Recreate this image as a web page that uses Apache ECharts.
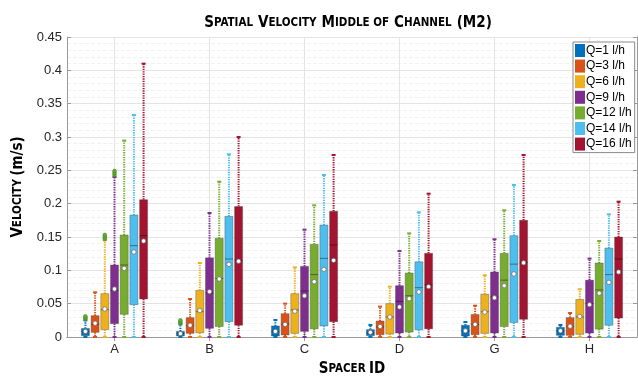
<!DOCTYPE html>
<html><head><meta charset="utf-8">
<script src="https://cdn.jsdelivr.net/npm/echarts@6/dist/echarts.min.js"></script>
<style>html,body{margin:0;padding:0;background:#fff}#c{width:638px;height:382px}</style>
</head><body><div id="c"></div>
<script>
const categories = ['A', 'B', 'C', 'D', 'G', 'H'];
const seriesNames = ['Q=1 l/h', 'Q=3 l/h', 'Q=6 l/h', 'Q=9 l/h', 'Q=12 l/h', 'Q=14 l/h', 'Q=16 l/h'];
const yTicks = [0, 0.05, 0.1, 0.15, 0.2, 0.25, 0.3, 0.35, 0.4, 0.45];

// [low whisker, Q1, median, Q3, high whisker] for spacers A, B, C, D, G, H
const boxQ1 = [[0, 0.002, 0.008, 0.0128, 0.025], [0, 0.0015, 0.005, 0.0084, 0.019], [0, 0.0015, 0.008, 0.0166, 0.0255], [0, 0.002, 0.006, 0.011, 0.018], [0, 0.0015, 0.009, 0.0176, 0.0225], [0, 0.0025, 0.009, 0.0145, 0.018]];
const boxQ3 = [[0, 0.007, 0.019, 0.032, 0.067], [0, 0.0055, 0.017, 0.029, 0.057], [0, 0.003, 0.019, 0.035, 0.050], [0, 0.0034, 0.015, 0.024, 0.0456], [0, 0.0034, 0.019, 0.0338, 0.047], [0, 0.0025, 0.016, 0.029, 0.036]];
const boxQ6 = [[0, 0.011, 0.041, 0.065, 0.145], [0, 0.0063, 0.038, 0.070, 0.111], [0, 0.0054, 0.0407, 0.065, 0.1044], [0, 0.0044, 0.030, 0.050, 0.0755], [0, 0.0054, 0.0378, 0.0643, 0.0926], [0, 0.004, 0.030, 0.0563, 0.0716]];
const boxQ9 = [[0, 0.020, 0.070, 0.108, 0.240], [0, 0.013, 0.066, 0.1187, 0.186], [0, 0.0084, 0.069, 0.106, 0.161], [0, 0.006, 0.0534, 0.077, 0.129], [0, 0.006, 0.060, 0.0975, 0.1466], [0, 0.006, 0.050, 0.0853, 0.1176]];
const boxQ12 = [[0, 0.034, 0.108, 0.153, 0.2946], [0, 0.0157, 0.0878, 0.148, 0.233], [0, 0.0122, 0.0936, 0.139, 0.1975], [0, 0.0074, 0.0618, 0.096, 0.1554], [0, 0.0157, 0.0853, 0.1255, 0.190], [0, 0.0118, 0.0706, 0.111, 0.144]];
const boxQ14 = [[0, 0.0485, 0.137, 0.183, 0.333], [0, 0.023, 0.117, 0.181, 0.274], [0, 0.0166, 0.118, 0.168, 0.243], [0, 0.0107, 0.074, 0.1128, 0.187], [0, 0.0216, 0.1093, 0.152, 0.228], [0, 0.0176, 0.0936, 0.1334, 0.184]];
const boxQ16 = [[0, 0.057, 0.152, 0.206, 0.410], [0, 0.0176, 0.115, 0.1956, 0.300], [0, 0.023, 0.138, 0.1887, 0.273], [0, 0.0122, 0.078, 0.1255, 0.215], [0, 0.0265, 0.112, 0.175, 0.273], [0, 0.0284, 0.117, 0.150, 0.203]];

// mean values for spacers A, B, C, D, G, H
const meanQ1 = [0.0084, 0.005, 0.0084, 0.007, 0.0093, 0.0093];
const meanQ3 = [0.0206, 0.0176, 0.019, 0.0157, 0.019, 0.0162];
const meanQ6 = [0.042, 0.0397, 0.0387, 0.030, 0.0373, 0.0309];
const meanQ9 = [0.072, 0.068, 0.0618, 0.045, 0.0588, 0.0485];
const meanQ12 = [0.103, 0.087, 0.083, 0.0574, 0.077, 0.0657];
const meanQ14 = [0.1275, 0.109, 0.1015, 0.0676, 0.0946, 0.082];
const meanQ16 = [0.144, 0.1137, 0.115, 0.0755, 0.1113, 0.0975];

// outliers: [spacer index, value]
const outliersQ1 = [[0, 0.027], [0, 0.029], [0, 0.031], [1, 0.021], [1, 0.023], [1, 0.025]];
const outliersQ6 = [[0, 0.147], [0, 0.150], [0, 0.153]];
const outliersQ9 = [[0, 0.243], [0, 0.246], [0, 0.249]];

const boxes = [boxQ1, boxQ3, boxQ6, boxQ9, boxQ12, boxQ14, boxQ16];
const means = [meanQ1, meanQ3, meanQ6, meanQ9, meanQ12, meanQ14, meanQ16];
const outliers = [[0, outliersQ1], [2, outliersQ6], [3, outliersQ9]];
const colors = ['#0072BD', '#D95319', '#EDB120', '#7E2F8E', '#77AC30', '#4DBEEE', '#A2142F'];

const BOX_STEP = 9.7, BOX_W = 8, CAP_W = 4;
const FONT = "'Liberation Sans', Arial, sans-serif";
const NARROW = "'Liberation Sans Narrow', 'DejaVu Sans Condensed', 'Liberation Sans', sans-serif";

function boxRender(si) {
  return function (params, api) {
    const ci = api.value(0);
    const cx = api.coord([ci, 0])[0] + (si - 3) * BOX_STEP;
    const y = k => api.coord([ci, api.value(k)])[1];
    const yLo = y(1), yQ1 = y(2), yMed = y(3), yQ3 = y(4), yHi = y(5), yMean = y(6);
    const col = api.visual('color');
    const dash = { stroke: col, lineWidth: 2, lineDash: [1.3, 1.1] };
    return {
      type: 'group', children: [
        { type: 'line', shape: { x1: cx, y1: yQ3, x2: cx, y2: yHi }, style: dash },
        { type: 'line', shape: { x1: cx, y1: yQ1, x2: cx, y2: yLo }, style: dash },
        { type: 'line', shape: { x1: cx - CAP_W / 2, y1: yHi, x2: cx + CAP_W / 2, y2: yHi }, style: { stroke: col, lineWidth: 2 } },
        { type: 'line', shape: { x1: cx - CAP_W / 2, y1: yLo, x2: cx + CAP_W / 2, y2: yLo }, style: { stroke: col, lineWidth: 2 } },
        { type: 'rect', shape: { x: cx - BOX_W / 2, y: yQ3, width: BOX_W, height: Math.max(1, yQ1 - yQ3) }, style: { fill: col, stroke: 'rgba(70,70,70,0.55)', lineWidth: 0.7 } },
        { type: 'line', shape: { x1: cx - BOX_W / 2, y1: yMed, x2: cx + BOX_W / 2, y2: yMed }, style: { stroke: 'rgba(0,0,0,0.4)', lineWidth: 1 } },
        { type: 'circle', shape: { cx: cx, cy: yMean, r: 2.2 }, style: { fill: '#fff', stroke: '#666', lineWidth: 0.7 } }
      ]
    };
  };
}
function outlierRender(si) {
  return function (params, api) {
    const p = api.coord([api.value(0), api.value(1)]);
    return { type: 'circle', shape: { cx: p[0] + (si - 3) * BOX_STEP, cy: p[1], r: 1.9 }, style: { fill: '#5FAE32', stroke: '#3d7a1e', lineWidth: 0.5 } };
  };
}

const series = seriesNames.map((name, si) => ({
  name: name,
  type: 'custom',
  renderItem: boxRender(si),
  itemStyle: { color: colors[si] },
  encode: { x: 0, y: [1, 2, 3, 4, 5, 6] },
  data: boxes[si].map((b, i) => [i].concat(b, [means[si][i]])),
  z: 3
}));
outliers.forEach(([si, pts]) => series.push({
  name: 'out' + si, type: 'custom', renderItem: outlierRender(si),
  encode: { x: 0, y: 1 }, data: pts, z: 4, itemStyle: { color: '#5FAE32' }
}));

const sc = (big, small) => `{a|${big}}{b|${small}}`;
const chart = echarts.init(document.getElementById('c'), null, { renderer: 'canvas' });
chart.setOption({
  animation: false,
  backgroundColor: '#fff',
  title: {
    text: sc('S', 'PATIAL') + ' ' + sc('V', 'ELOCITY') + ' ' + sc('M', 'IDDLE OF') + ' ' + sc('C', 'HANNEL') + ' {a|(M2)}',
    left: 343, top: 9, textAlign: 'center',
    textStyle: {
      rich: {
        a: { fontFamily: NARROW, fontWeight: 'bold', fontSize: 15, color: '#000' },
        b: { fontFamily: NARROW, fontWeight: 'bold', fontSize: 11.5, color: '#000' }
      }
    }
  },
  legend: {
    data: seriesNames, orient: 'vertical', left: 573, top: 42,
    icon: 'rect', itemWidth: 10, itemHeight: 13, itemGap: 2.6,
    padding: [2, 3, 2, 2], backgroundColor: '#fff', borderColor: '#8a8a8a', borderWidth: 1,
    textStyle: { fontFamily: FONT, fontSize: 12, color: '#000', padding: [0, 0, 0, -4] }
  },
  grid: { left: 67, right: 1, top: 37, bottom: 39 },
  xAxis: [{
    type: 'category', data: categories, position: 'bottom',
    name: sc('S', 'PACER') + ' {a|ID}', nameLocation: 'middle', nameGap: 25,
    nameTextStyle: { rich: {
      a: { fontFamily: NARROW, fontWeight: 'bold', fontSize: 15, color: '#000' },
      b: { fontFamily: NARROW, fontWeight: 'bold', fontSize: 11.5, color: '#000' } } },
    axisLine: { lineStyle: { color: '#9a9a9a', width: 1 } },
    axisTick: { show: true, inside: true, alignWithLabel: true, length: 4, lineStyle: { color: '#9a9a9a' } },
    axisLabel: { fontFamily: FONT, fontSize: 13, color: '#262626', margin: 6 },
    splitLine: { show: true, alignWithLabel: true, lineStyle: { color: '#e4e4e4' } }
  }, {
    type: 'category', data: categories, position: 'top',
    axisLine: { lineStyle: { color: '#9a9a9a' } },
    axisTick: { show: true, inside: true, alignWithLabel: true, length: 4, lineStyle: { color: '#9a9a9a' } },
    axisLabel: { show: false }, splitLine: { show: false }
  }],
  yAxis: [{
    type: 'value', min: 0, max: 0.45, interval: 0.05,
    name: sc('V', 'ELOCITY') + ' {a|(m/s)}', nameLocation: 'middle', nameGap: 41, nameRotate: 90,
    nameTextStyle: { rich: {
      a: { fontFamily: NARROW, fontWeight: 'bold', fontSize: 15, color: '#000' },
      b: { fontFamily: NARROW, fontWeight: 'bold', fontSize: 11.5, color: '#000' } } },
    axisLine: { show: true, lineStyle: { color: '#9a9a9a' } },
    axisTick: { show: true, inside: true, length: 4, lineStyle: { color: '#9a9a9a' } },
    axisLabel: { fontFamily: FONT, fontSize: 13, color: '#262626', margin: 5,
      formatter: v => { const t = yTicks.find(x => Math.abs(x - v) < 1e-9); return t === undefined ? '' : String(t); } },
    splitLine: { show: true, lineStyle: { color: '#e4e4e4' } },
    minorTick: { show: false, splitNumber: 5 },
    minorSplitLine: { show: true, lineStyle: { color: '#f1f1f1', type: 'dashed' } }
  }, {
    type: 'value', min: 0, max: 0.45, interval: 0.05, position: 'right',
    axisLine: { show: true, lineStyle: { color: '#9a9a9a' } },
    axisTick: { show: true, inside: true, length: 4, lineStyle: { color: '#9a9a9a' } },
    axisLabel: { show: false }, splitLine: { show: false }
  }],
  series: series
});
</script></body></html>
